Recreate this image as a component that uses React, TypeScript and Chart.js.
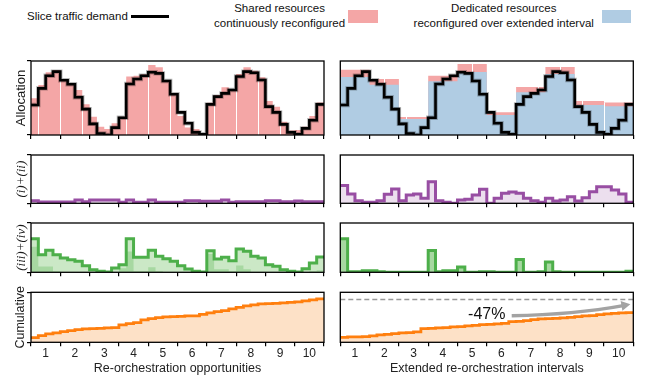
import React, { useEffect, useRef } from 'react';
import { Chart, registerables } from 'chart.js';

Chart.register(...registerables);

const SANS = '"Liberation Sans", Arial, Helvetica, sans-serif';
const SERIF = '"Liberation Serif", "DejaVu Serif", serif';

// ---------------- data ----------------
const xTickLabels = ['1', '2', '3', '4', '5', '6', '7', '8', '9', '10'];
const leftXTitle = 'Re-orchestration opportunities';
const rightXTitle = 'Extended re-orchestration intervals';

// slice traffic demand (40 sub-steps, 4 per opportunity)
const demand = [0.405, 0.63, 0.8, 0.856, 0.74, 0.685, 0.51, 0.35, 0.15, 0.02, 0.0, 0.1, 0.234, 0.69, 0.757, 0.8, 0.847, 0.833, 0.73, 0.55, 0.306, 0.158, 0.036, 0.01, 0.414, 0.518, 0.563, 0.608, 0.79, 0.856, 0.842, 0.743, 0.383, 0.306, 0.144, 0.036, 0.01, 0.09, 0.2, 0.414];
// shared resources continuously reconfigured (left)
const sharedAlloc = [0.495, 0.676, 0.847, 0.878, 0.757, 0.7, 0.608, 0.414, 0.248, 0.113, 0.08, 0.158, 0.248, 0.79, 0.8, 0.82, 0.946, 0.914, 0.743, 0.55, 0.257, 0.1, 0.08, 0.01, 0.437, 0.54, 0.644, 0.608, 0.824, 0.914, 0.869, 0.78, 0.46, 0.383, 0.18, 0.06, 0.068, 0.113, 0.257, 0.44];
// dedicated resources per extended interval (right)
const dedicatedAlloc = [0.784, 0.68, 0.216, 0.725, 0.85, 0.27, 0.577, 0.824, 0.405, 0.39];
// top of shared resources stacked on dedicated (right)
const sharedTop = [0.882, 0.757, 0.243, 0.8, 0.96, 0.306, 0.649, 0.919, 0.46, 0.44];
// white separators (sub-step index)
const gapsLeft = [1, 4, 7, 13, 16, 19, 25, 28, 31, 34];
const gapsRight = [3, 6, 9, 18, 27, 30, 33, 36];

// (i)+(ii)
const overheadLeft = [0.055, 0.028, 0.028, 0.028, 0.028, 0.028, 0.069, 0.034, 0.069, 0.069, 0.069, 0.069, 0.021, 0.069, 0.021, 0.021, 0.069, 0.021, 0.021, 0.021, 0.021, 0.055, 0.055, 0.041, 0.041, 0.041, 0.069, 0.021, 0.034, 0.034, 0.034, 0.034, 0.055, 0.055, 0.034, 0.034, 0.048, 0.034, 0.034, 0.034];
const overheadRight = [0.366, 0.193, 0.055, 0.02, 0.02, 0.055, 0.186, 0.297, 0.055, 0.172, 0.193, 0.103, 0.448, 0.055, 0.02, 0.0, 0.069, 0.083, 0.172, 0.29, 0.0, 0.103, 0.207, 0.234, 0.207, 0.103, 0.055, 0.02, 0.103, 0.048, 0.069, 0.138, 0.048, 0.117, 0.241, 0.345, 0.345, 0.276, 0.193, 0.02];

// (iii)+(iv)
const unusedLeft = [0.682, 0.358, 0.446, 0.358, 0.29, 0.257, 0.223, 0.135, 0.054, 0.02, 0.007, 0.088, 0.155, 0.682, 0.304, 0.304, 0.446, 0.324, 0.277, 0.223, 0.135, 0.068, 0.02, 0.007, 0.439, 0.27, 0.304, 0.236, 0.473, 0.426, 0.324, 0.29, 0.155, 0.122, 0.054, 0.02, 0.007, 0.074, 0.189, 0.311];
const unusedLeftPart = [0.52, 0.12, 0.12, 0.02, 0, 0, 0, 0, 0, 0, 0, 0, 0.08, 0.42, 0.02, 0.02, 0.1, 0.02, 0, 0, 0, 0, 0, 0, 0.37, 0.06, 0.06, 0.02, 0.14, 0.06, 0, 0, 0, 0, 0, 0, 0, 0, 0.02, 0.04];
const unusedRight = [0.68, 0.01, 0.01, 0.03, 0.03, 0.01, 0, 0, 0, 0, 0, 0, 0.44, 0.01, 0.03, 0.03, 0.11, 0, 0, 0.01, 0.01, 0, 0, 0, 0.26, 0, 0, 0.01, 0.21, 0.01, 0, 0, 0, 0, 0, 0, 0, 0, 0, 0.02];

// cumulative
const cumulativeLeft = [0.093, 0.133, 0.167, 0.187, 0.213, 0.233, 0.253, 0.267, 0.273, 0.28, 0.287, 0.293, 0.347, 0.373, 0.393, 0.447, 0.473, 0.493, 0.507, 0.513, 0.52, 0.527, 0.527, 0.56, 0.587, 0.613, 0.633, 0.667, 0.7, 0.727, 0.747, 0.767, 0.773, 0.78, 0.787, 0.8, 0.807, 0.827, 0.847, 0.867];
const cumulativeRight = [0.1, 0.107, 0.107, 0.113, 0.127, 0.147, 0.16, 0.173, 0.187, 0.193, 0.207, 0.273, 0.28, 0.287, 0.293, 0.307, 0.313, 0.327, 0.34, 0.353, 0.36, 0.367, 0.38, 0.413, 0.42, 0.433, 0.453, 0.467, 0.473, 0.48, 0.487, 0.5, 0.513, 0.527, 0.533, 0.553, 0.567, 0.58, 0.587, 0.593];
const baselineLevel = [0.855, 0.855];
const baselineX = [0, 10];
const reductionLabel = '-47%';
const reductionLabelAt = [5.0, 0.562];
const arrowFrom = [5.85, 0.532];
const arrowVia = [8.0, 0.556];
const arrowTo = [9.9, 0.76];

// ---------------- colours ----------------
const C_PINK = '#f4a6a6';
const C_BLUE = '#b0cce3';
const C_PURPLE = '#984ea3';
const C_PURPLE_FILL = '#ecdfee';
const C_GREEN = '#4daf4a';
const C_GREEN_LIGHT = '#cbe8c6';
const C_GREEN_DARK = '#a7d8a1';
const C_ORANGE = '#ff7f0e';
const C_ORANGE_FILL = '#fde1c7';

const STEP = 0.25;

function steps(values: number[], width: number) {
  const pts = values.map((v, i) => ({ x: i * width, y: v }));
  pts.push({ x: values.length * width, y: values[values.length - 1] });
  return pts;
}

function lineDs(data: any[], color: string, width: number, fill: any = false, fillColor = 'transparent', extra: any = {}) {
  return {
    data,
    borderColor: color,
    borderWidth: width,
    backgroundColor: fillColor,
    fill,
    stepped: true,
    pointRadius: 0,
    borderJoinStyle: 'miter',
    borderCapStyle: 'butt',
    ...extra,
  };
}

const framePlugin = {
  id: 'frame',
  afterDraw(chart: any) {
    const { ctx, chartArea: a } = chart;
    ctx.save();
    ctx.strokeStyle = '#000';
    ctx.lineWidth = 1.3;
    ctx.strokeRect(a.left, a.top, a.right - a.left, a.bottom - a.top);
    ctx.restore();
  },
};

function gapPlugin(gaps: number[], range: (k: number) => [number, number], afterIndex: number) {
  return {
    id: 'gaps',
    afterDatasetDraw(chart: any, args: any) {
      if (args.index !== afterIndex) return;
      const { ctx, scales } = chart;
      const x = scales.x;
      const y = scales.y;
      ctx.save();
      ctx.strokeStyle = '#ffffff';
      ctx.lineWidth = 1;
      for (const k of gaps) {
        const [lo, hi] = range(k);
        const px = Math.round(x.getPixelForValue(k * STEP)) + 0.5;
        ctx.beginPath();
        ctx.moveTo(px, y.getPixelForValue(lo));
        ctx.lineTo(px, y.getPixelForValue(hi));
        ctx.stroke();
      }
      ctx.restore();
    },
  };
}

const annotationPlugin = {
  id: 'reduction',
  afterDatasetsDraw(chart: any) {
    const { ctx, scales } = chart;
    const x = scales.x;
    const y = scales.y;
    const p0 = [x.getPixelForValue(arrowFrom[0]), y.getPixelForValue(arrowFrom[1])];
    const p1 = [x.getPixelForValue(arrowVia[0]), y.getPixelForValue(arrowVia[1])];
    const p2 = [x.getPixelForValue(arrowTo[0]), y.getPixelForValue(arrowTo[1])];
    const ang = Math.atan2(p2[1] - p1[1], p2[0] - p1[0]);
    const head = 9;
    const end = [p2[0] - Math.cos(ang) * head * 0.8, p2[1] - Math.sin(ang) * head * 0.8];
    ctx.save();
    ctx.strokeStyle = '#a3a3a3';
    ctx.fillStyle = '#a3a3a3';
    ctx.lineWidth = 3.5;
    ctx.lineCap = 'butt';
    ctx.beginPath();
    ctx.moveTo(p0[0], p0[1]);
    ctx.quadraticCurveTo(p1[0], p1[1], end[0], end[1]);
    ctx.stroke();
    ctx.beginPath();
    ctx.moveTo(p2[0], p2[1]);
    ctx.lineTo(p2[0] - Math.cos(ang) * head + Math.sin(ang) * 5, p2[1] - Math.sin(ang) * head - Math.cos(ang) * 5);
    ctx.lineTo(p2[0] - Math.cos(ang) * head - Math.sin(ang) * 5, p2[1] - Math.sin(ang) * head + Math.cos(ang) * 5);
    ctx.closePath();
    ctx.fill();
    ctx.fillStyle = '#111';
    ctx.font = `16px ${SANS}`;
    ctx.textAlign = 'center';
    ctx.textBaseline = 'middle';
    ctx.fillText(reductionLabel, x.getPixelForValue(reductionLabelAt[0]), y.getPixelForValue(reductionLabelAt[1]));
    ctx.restore();
  },
};

// ---------------- layout ----------------
const rows = [
  { top: 55, h: 86, padT: 6, padB: 2, xH: 4 },
  { top: 149, h: 61, padT: 6, padB: 2.7, xH: 4 },
  { top: 217, h: 62, padT: 6, padB: 2.7, xH: 4 },
  { top: 286, h: 96, padT: 6.3, padB: 0, xH: 39.7 },
];
const cols = [
  { left: 0, w: 330, padL: 0, padR: 6, yW: 31 },
  { left: 330, w: 321, padL: 10.3, padR: 17.7, yW: 0 },
];

function makeOptions(r: number, c: number, yTitle: any, xTitle: string | null) {
  const row = rows[r];
  const col = cols[c];
  const showLabels = r === 3;
  return {
    responsive: false,
    animation: false,
    devicePixelRatio: 1,
    events: [],
    layout: { padding: { left: col.padL, right: col.padR, top: row.padT, bottom: row.padB }, autoPadding: false },
    plugins: { legend: { display: false }, tooltip: { enabled: false } },
    scales: {
      x: {
        type: 'linear',
        position: 'bottom',
        min: 0,
        max: 10,
        border: { display: false },
        grid: { drawOnChartArea: false, drawTicks: true, tickLength: 4, color: '#000', lineWidth: 1.2 },
        ticks: {
          display: showLabels,
          stepSize: 1,
          autoSkip: false,
          maxRotation: 0,
          minRotation: 0,
          padding: 0,
          labelOffset: 14.65,
          color: '#222',
          font: { family: SANS, size: 12 },
          callback: (_v: any, i: number) => (i < xTickLabels.length ? xTickLabels[i] : ''),
        },
        title: xTitle
          ? { display: true, text: xTitle, color: '#222', font: { family: SANS, size: 12.5 }, padding: { top: 6, bottom: 6 } }
          : { display: false },
        afterFit: (s: any) => {
          s.height = row.xH;
          s.paddingLeft = 0;
          s.paddingRight = 0;
        },
      },
      y: {
        display: c === 0,
        position: 'left',
        min: 0,
        max: 1,
        border: { display: false },
        grid: { drawOnChartArea: false, drawTicks: true, tickLength: 4, color: '#000', lineWidth: 1.2 },
        ticks: { display: false, stepSize: 1 },
        title: yTitle ? { display: true, color: '#1a1a1a', padding: { top: 13.3, bottom: 13.3 }, ...yTitle } : { display: false },
        afterFit: (s: any) => {
          s.width = col.yW;
          s.paddingTop = 0;
          s.paddingBottom = 0;
        },
      },
    },
  };
}

type Spec = { id: string; r: number; c: number; build: () => any };

const yTitleAlloc = { text: 'Allocation', font: { family: SANS, size: 13 } };
const yTitleOver = { text: '(i)+(ii)', font: { family: SERIF, size: 13, style: 'italic' } };
const yTitleUnused = { text: '(iii)+(iv)', font: { family: SERIF, size: 13, style: 'italic' } };
const yTitleCum = { text: 'Cumulative', font: { family: SANS, size: 12.5 } };

const HALO_BLACK = 'rgba(0,0,0,0.28)';

const specs: Spec[] = [
  {
    id: 'alloc-left', r: 0, c: 0,
    build: () => ({
      type: 'line',
      data: {
        datasets: [
          lineDs(steps(demand, STEP), '#000', 2.6),
          lineDs(steps(demand, STEP), HALO_BLACK, 4.4),
          lineDs(steps(sharedAlloc, STEP), 'transparent', 0, 'origin', C_PINK),
        ],
      },
      options: makeOptions(0, 0, yTitleAlloc, null),
      plugins: [
        gapPlugin(gapsLeft, (k) => [0, Math.min(sharedAlloc[k - 1], sharedAlloc[k])], 2),
        framePlugin,
      ],
    }),
  },
  {
    id: 'alloc-right', r: 0, c: 1,
    build: () => ({
      type: 'line',
      data: {
        datasets: [
          lineDs(steps(demand, STEP), '#000', 2.6),
          lineDs(steps(demand, STEP), HALO_BLACK, 4.4),
          lineDs(steps(dedicatedAlloc, 1), 'transparent', 0, 'origin', C_BLUE),
          lineDs(steps(sharedTop, 1), 'transparent', 0, 'origin', C_PINK),
        ],
      },
      options: makeOptions(0, 1, null, null),
      plugins: [
        gapPlugin(
          gapsRight,
          (k) => {
            const i = Math.floor(k / 4);
            if (k % 4 === 0) return [0, Math.min(sharedTop[i - 1], sharedTop[i])];
            return [dedicatedAlloc[i], sharedTop[i]];
          },
          2,
        ),
        framePlugin,
      ],
    }),
  },
  {
    id: 'over-left', r: 1, c: 0,
    build: () => ({
      type: 'line',
      data: { datasets: [lineDs(steps(overheadLeft, STEP), C_PURPLE, 3, 'origin', C_PURPLE_FILL)] },
      options: makeOptions(1, 0, yTitleOver, null),
      plugins: [framePlugin],
    }),
  },
  {
    id: 'over-right', r: 1, c: 1,
    build: () => ({
      type: 'line',
      data: { datasets: [lineDs(steps(overheadRight, STEP), C_PURPLE, 3, 'origin', C_PURPLE_FILL)] },
      options: makeOptions(1, 1, null, null),
      plugins: [framePlugin],
    }),
  },
  {
    id: 'unused-left', r: 2, c: 0,
    build: () => ({
      type: 'line',
      data: {
        datasets: [
          lineDs(steps(unusedLeft, STEP), C_GREEN, 3),
          lineDs(steps(unusedLeftPart, STEP), 'transparent', 0, 'origin', C_GREEN_DARK),
          lineDs(steps(unusedLeft, STEP), 'transparent', 0, 'origin', C_GREEN_LIGHT),
        ],
      },
      options: makeOptions(2, 0, yTitleUnused, null),
      plugins: [framePlugin],
    }),
  },
  {
    id: 'unused-right', r: 2, c: 1,
    build: () => ({
      type: 'line',
      data: { datasets: [lineDs(steps(unusedRight, STEP), C_GREEN, 3, 'origin', C_GREEN_DARK)] },
      options: makeOptions(2, 1, null, null),
      plugins: [framePlugin],
    }),
  },
  {
    id: 'cum-left', r: 3, c: 0,
    build: () => ({
      type: 'line',
      data: { datasets: [lineDs(steps(cumulativeLeft, STEP), C_ORANGE, 2.8, 'origin', C_ORANGE_FILL)] },
      options: makeOptions(3, 0, yTitleCum, leftXTitle),
      plugins: [framePlugin],
    }),
  },
  {
    id: 'cum-right', r: 3, c: 1,
    build: () => ({
      type: 'line',
      data: {
        datasets: [
          {
            data: baselineX.map((x, i) => ({ x, y: baselineLevel[i] })),
            borderColor: '#999999',
            borderWidth: 1.5,
            borderDash: [5, 3],
            pointRadius: 0,
            fill: false,
          },
          lineDs(steps(cumulativeRight, STEP), C_ORANGE, 2.8, 'origin', C_ORANGE_FILL),
        ],
      },
      options: makeOptions(3, 1, null, rightXTitle),
      plugins: [framePlugin, annotationPlugin],
    }),
  },
];

function Panel({ spec }: { spec: Spec }) {
  const ref = useRef<HTMLCanvasElement | null>(null);
  const row = rows[spec.r];
  const col = cols[spec.c];
  useEffect(() => {
    if (!ref.current) return;
    const chart = new Chart(ref.current, spec.build());
    return () => chart.destroy();
  }, []);
  return (
    <canvas
      ref={ref}
      width={col.w}
      height={row.h}
      style={{ position: 'absolute', left: col.left, top: row.top, width: col.w, height: row.h, display: 'block' }}
    />
  );
}

const legendText: React.CSSProperties = {
  position: 'absolute',
  fontFamily: SANS,
  fontSize: '11.5px',
  lineHeight: '14.7px',
  color: '#111',
  whiteSpace: 'nowrap',
};

export default function App() {
  return (
    <div style={{ position: 'absolute', left: 0, top: 0, width: 651, height: 382, background: '#fff', overflow: 'hidden' }}>
      <div style={{ ...legendText, left: 27, top: 8.5 }}>Slice traffic demand</div>
      <div style={{ position: 'absolute', left: 131, top: 15.2, width: 38, height: 3, background: '#000' }} />
      <div style={{ ...legendText, left: 179.6, top: 1.2, width: 200, textAlign: 'center' }}>
        Shared resources
        <br />
        continuously reconfigured
      </div>
      <div style={{ position: 'absolute', left: 348, top: 10, width: 29.5, height: 13.3, background: C_PINK }} />
      <div style={{ ...legendText, left: 403.75, top: 1.2, width: 200, textAlign: 'center' }}>
        Dedicated resources
        <br />
        reconfigured over extended interval
      </div>
      <div style={{ position: 'absolute', left: 602, top: 10, width: 29, height: 13.3, background: C_BLUE }} />
      {specs.map((s) => (
        <Panel key={s.id} spec={s} />
      ))}
    </div>
  );
}
